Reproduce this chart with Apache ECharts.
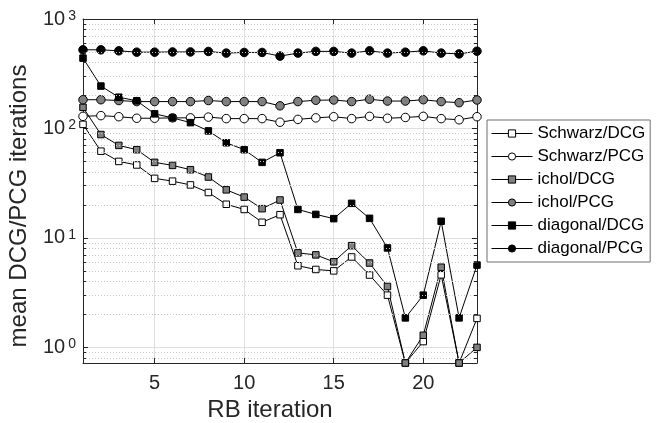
<!DOCTYPE html>
<html><head><meta charset="utf-8">
<script src="https://cdn.jsdelivr.net/npm/echarts@6/dist/echarts.min.js"></script>
<style>html,body{margin:0;padding:0;background:#fff}#c{width:657px;height:423px}</style>
</head><body><div id="c"></div>
<script>
const iterations = [1,2,3,4,5,6,7,8,9,10,11,12,13,14,15,16,17,18,19,20,21,22,23];
const schwarzDCG = [109, 62, 50, 46.4, 35, 33, 30.5, 26, 20.3, 18.2, 13.9, 16.3, 5.57, 5.15, 5.0, 6.7, 4.58, 3.0, 0.72, 1.13, 4.6, 0.72, 1.84];
const schwarzPCG = [129, 131, 128, 124, 124, 125, 125, 127, 123, 123, 123, 114, 121, 125, 128, 123, 129, 124, 126, 129, 123, 120, 128];
const icholDCG = [156, 88, 70, 64, 49, 46, 42, 36, 27.5, 23.6, 18.5, 22.2, 7.3, 7.0, 6.05, 8.5, 5.9, 3.6, 0.72, 1.29, 5.4, 0.72, 1.0];
const icholPCG = [183, 183, 180, 176, 176, 176, 176, 180, 176, 176, 176, 161, 176, 181, 182, 176, 185, 178, 178, 183, 176, 172, 182];
const diagonalDCG = [439, 244, 193, 179, 136, 125, 113, 95, 74, 64, 49, 60, 18.2, 16.4, 15.0, 20.7, 15.1, 8.1, 1.86, 3.0, 14.2, 1.86, 5.65];
const diagonalPCG = [523, 523, 512, 498, 498, 500, 500, 505, 488, 495, 495, 458, 488, 506, 506, 488, 512, 488, 498, 512, 488, 480, 508];
const seriesNames = ['Schwarz/DCG','Schwarz/PCG','ichol/DCG','ichol/PCG','diagonal/DCG','diagonal/PCG'];
const yMinorValues = [0.8,0.9,2,3,4,5,6,7,8,9,20,30,40,50,60,70,80,90,200,300,400,500,600,700,800,900];
const xRange = [1, 23];
const yRange = [0.72, 1000];
const xTitle = 'RB iteration';
const yTitle = 'mean DCG/PCG iterations';

const FONT = '"Liberation Sans", Arial, Helvetica, sans-serif';
const TXT = '#262626';
const AXIS = '#262626';

function mk(name, vals, symbol, fill, size) {
  return {
    name: name, type: 'line',
    data: iterations.map((x, i) => [x, vals[i]]),
    symbol: symbol, symbolSize: size, showSymbol: true, clip: false,
    lineStyle: { color: '#000', width: 1 },
    itemStyle: { color: fill, borderColor: '#000', borderWidth: 1 },
    emphasis: { disabled: true }, z: 3
  };
}

const chart = echarts.init(document.getElementById('c'), null, { renderer: 'canvas' });
const minorTickSegs = [];
yMinorValues.forEach(v => {
  minorTickSegs.push([{ coord: [xRange[0], v] }, { coord: [xRange[0] + 0.17, v] }]);
  minorTickSegs.push([{ coord: [xRange[1] - 0.17, v] }, { coord: [xRange[1], v] }]);
});

const option = {
  animation: false,
  backgroundColor: '#fff',
  textStyle: { fontFamily: FONT },
  grid: { left: 83, right: 180, top: 19, bottom: 60, containLabel: false },
  xAxis: [{
    type: 'value', min: xRange[0], max: xRange[1], splitNumber: 5,
    axisLine: { show: true, lineStyle: { color: AXIS, width: 1 } },
    axisTick: { show: true, inside: true, length: 5, lineStyle: { color: AXIS } },
    axisLabel: { show: true, showMinLabel: false, showMaxLabel: false, margin: 10, fontSize: 20, color: TXT, fontFamily: FONT },
    splitLine: { show: true, lineStyle: { color: '#dfdfdf', width: 1 } }
  }, {
    type: 'value', position: 'top', min: xRange[0], max: xRange[1], splitNumber: 5,
    axisLine: { show: true, onZero: false, lineStyle: { color: AXIS, width: 1 } },
    axisTick: { show: true, inside: true, length: 5, lineStyle: { color: AXIS } },
    axisLabel: { show: false }, splitLine: { show: false }
  }],
  yAxis: [{
    type: 'log', logBase: 10, min: yRange[0], max: yRange[1],
    axisLine: { show: true, lineStyle: { color: AXIS, width: 1 } },
    axisTick: { show: true, inside: true, length: 5, lineStyle: { color: AXIS } },
    axisLabel: {
      show: true, showMinLabel: false, margin: 7, color: TXT, fontFamily: FONT,
      formatter: function (v) { const e = Math.round(Math.log10(v)); return '{b|10}{s|' + e + '}'; },
      rich: {
        b: { fontSize: 20, lineHeight: 20, color: TXT, fontFamily: FONT },
        s: { fontSize: 14, lineHeight: 14, verticalAlign: 'top', padding: [0, 0, 0, 3], color: TXT, fontFamily: FONT }
      }
    },
    splitLine: { show: true, lineStyle: { color: '#dfdfdf', width: 1 } }
  }, {
    type: 'log', logBase: 10, min: yRange[0], max: yRange[1], position: 'right',
    axisLine: { show: true, onZero: false, lineStyle: { color: AXIS, width: 1 } },
    axisTick: { show: true, inside: true, length: 5, lineStyle: { color: AXIS } },
    axisLabel: { show: false }, splitLine: { show: false }
  }],
  legend: {
    data: seriesNames, orient: 'vertical', left: 487, top: 120,
    padding: [2, 5, 2, 4], itemGap: 0, itemWidth: 41, itemHeight: 9,
    backgroundColor: '#fff', borderColor: '#6e6e6e', borderWidth: 1,
    lineStyle: { width: 1, color: '#000' },
    itemStyle: { borderWidth: 1, borderColor: '#000' },
    textStyle: { fontSize: 17, lineHeight: 23, color: '#000', fontFamily: FONT },
    selectedMode: false
  },
  graphic: [
    { type: 'text', x: 270, y: 410, silent: true,
      style: { text: xTitle, font: '24px ' + FONT, fill: TXT, align: 'center', verticalAlign: 'middle', textAlign: 'center', textVerticalAlign: 'middle' } },
    { type: 'text', x: 19, y: 206, rotation: Math.PI / 2, silent: true,
      style: { text: yTitle, font: '24px ' + FONT, fill: TXT, align: 'center', verticalAlign: 'middle', textAlign: 'center', textVerticalAlign: 'middle' } }
  ],
  series: [
    { name: '_minorgrid', type: 'line', data: [], z: 1, silent: true,
      markLine: { silent: true, symbol: 'none', animation: false, label: { show: false },
        lineStyle: { color: '#c8c8c8', type: [1, 2], width: 1 },
        emphasis: { disabled: true },
        data: yMinorValues.map(v => ({ yAxis: v })) } },
    { name: '_minorticks', type: 'line', data: [], z: 2, silent: true,
      markLine: { silent: true, symbol: 'none', animation: false, label: { show: false },
        lineStyle: { color: AXIS, type: 'solid', width: 1 },
        emphasis: { disabled: true },
        data: minorTickSegs } },
    mk('Schwarz/DCG', schwarzDCG, 'rect', '#ffffff', 6.5),
    mk('Schwarz/PCG', schwarzPCG, 'circle', '#ffffff', 8.5),
    mk('ichol/DCG', icholDCG, 'rect', '#808080', 6.5),
    mk('ichol/PCG', icholPCG, 'circle', '#808080', 8.5),
    mk('diagonal/DCG', diagonalDCG, 'rect', '#000000', 6.5),
    mk('diagonal/PCG', diagonalPCG, 'circle', '#000000', 8.5)
  ]
};
chart.setOption(option);
</script>
</body></html>
